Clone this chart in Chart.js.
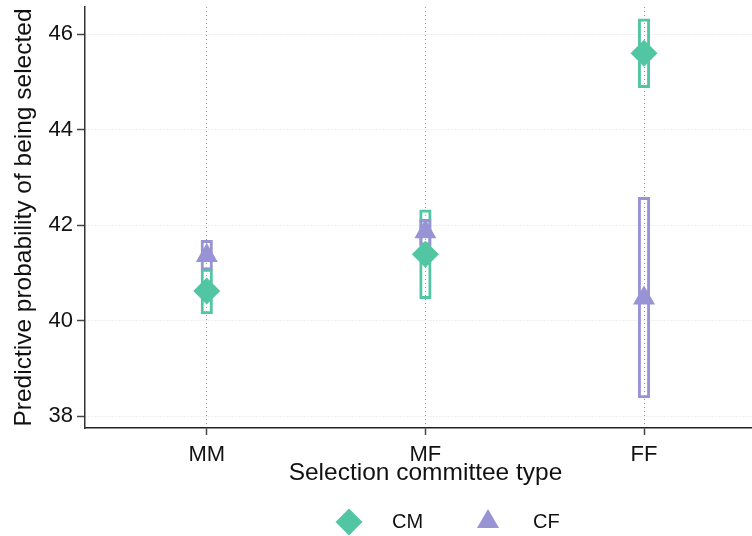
<!DOCTYPE html>
<html>
<head>
<meta charset="utf-8">
<script src="https://cdn.jsdelivr.net/npm/chart.js@4.4.1/dist/chart.umd.min.js"></script>
<style>
  html, body { margin: 0; padding: 0; background: #ffffff; }
  #wrap { width: 752px; height: 536px; }
</style>
</head>
<body>
<div id="wrap"><canvas id="chart" width="752" height="536"></canvas></div>
<script>
// Committee types on the x axis
const categories = ['MM', 'MF', 'FF'];

// Candidate male (CM): predicted probability and confidence bounds
const cmEstimate = [40.62, 41.39, 45.60];
const cmLow      = [40.14, 40.46, 44.88];
const cmHigh     = [41.08, 42.32, 46.32];

// Candidate female (CF): predicted probability and confidence bounds
const cfEstimate = [41.36, 41.86, 40.47];
const cfLow      = [41.06, 41.58, 38.38];
const cfHigh     = [41.68, 42.12, 42.58];

// Y axis tick values
const yTicks = [38, 40, 42, 44, 46];

const GREEN = '#52c6a3';
const PURPLE = '#9893d4';
const FONT = "'Liberation Sans', Arial, Helvetica, sans-serif";
const X_TITLE = 'Selection committee type';

const pos = categories.map((_, i) => i + 1);
const points = (est) => pos.map((x, i) => ({ x, y: est[i] }));
const ranges = (lo, hi) => pos.map((x, i) => ({ x, y: [lo[i], hi[i]] }));

// X axis title and the key below the plot (diamond = CM, triangle = CF)
const keyLegend = {
  id: 'keyLegend',
  afterDraw(chart) {
    const ctx = chart.ctx;
    ctx.save();
    ctx.fillStyle = '#111111';
    ctx.font = '24.5px ' + FONT;
    ctx.textAlign = 'center';
    ctx.textBaseline = 'alphabetic';
    ctx.fillText(X_TITLE, 425.5, 480);

    // diamond
    const dx = 349, dy = 522, dr = 13.5;
    ctx.fillStyle = GREEN;
    ctx.beginPath();
    ctx.moveTo(dx, dy - dr);
    ctx.lineTo(dx + dr, dy);
    ctx.lineTo(dx, dy + dr);
    ctx.lineTo(dx - dr, dy);
    ctx.closePath();
    ctx.fill();
    // triangle
    const tx = 488, tTop = 509, tBase = 528, tHalf = 11;
    ctx.fillStyle = PURPLE;
    ctx.beginPath();
    ctx.moveTo(tx, tTop);
    ctx.lineTo(tx + tHalf, tBase);
    ctx.lineTo(tx - tHalf, tBase);
    ctx.closePath();
    ctx.fill();
    // labels
    ctx.fillStyle = '#111111';
    ctx.font = '20px ' + FONT;
    ctx.textBaseline = 'middle';
    ctx.textAlign = 'left';
    ctx.fillText('CM', 392, 522);
    ctx.fillText('CF', 533, 522);
    ctx.restore();
  }
};

// keep the plot area edges fixed regardless of tick label overhang
const noOverhang = (s) => {
  s.paddingTop = 0; s.paddingBottom = 0; s.paddingLeft = 0; s.paddingRight = 0;
};

new Chart(document.getElementById('chart'), {
  type: 'bar',
  data: {
    datasets: [
      {
        type: 'scatter', label: 'CF', data: points(cfEstimate),
        pointStyle: 'triangle', pointRadius: 12.7, pointHoverRadius: 12.7,
        backgroundColor: PURPLE, borderColor: PURPLE, borderWidth: 0, order: 1
      },
      {
        type: 'scatter', label: 'CM', data: points(cmEstimate),
        pointStyle: 'rectRot', pointRadius: 13.5, pointHoverRadius: 13.5,
        backgroundColor: GREEN, borderColor: GREEN, borderWidth: 0, order: 2
      },
      {
        type: 'bar', label: 'CF interval', data: ranges(cfLow, cfHigh),
        backgroundColor: 'rgba(0,0,0,0)', borderColor: PURPLE, borderWidth: 2.3,
        borderSkipped: false, barThickness: 11.5, grouped: false, order: 3
      },
      {
        type: 'bar', label: 'CM interval', data: ranges(cmLow, cmHigh),
        backgroundColor: 'rgba(0,0,0,0)', borderColor: GREEN, borderWidth: 2.3,
        borderSkipped: false, barThickness: 11.5, grouped: false, order: 4
      }
    ]
  },
  options: {
    responsive: false,
    animation: false,
    layout: { autoPadding: false, padding: { top: 7, right: 0, left: 0, bottom: 0 } },
    plugins: { legend: { display: false }, tooltip: { enabled: false } },
    scales: {
      x: {
        type: 'linear', min: 0.443, max: 3.494, offset: false,
        afterBuildTicks: (s) => { s.ticks = pos.map(v => ({ value: v })); },
        afterFit: (s) => { s.height = 108; noOverhang(s); },
        ticks: {
          autoSkip: false, maxRotation: 0, padding: 7, color: '#111111',
          font: { family: FONT, size: 22 },
          callback: (v) => categories[v - 1] ?? ''
        },
        grid: {
          offset: false, color: '#9a9a9a', lineWidth: 1, borderDash: [1, 3],
          tickLength: 7, tickColor: '#444444', tickWidth: 1.5, tickBorderDash: []
        },
        border: { display: true, color: '#222222', width: 1.5, dash: [1, 3] },
        title: { display: false }
      },
      y: {
        type: 'linear', min: 37.75, max: 46.57,
        afterBuildTicks: (s) => { s.ticks = yTicks.map(v => ({ value: v })); },
        afterFit: (s) => { s.width = 85; noOverhang(s); },
        ticks: {
          padding: 4, color: '#111111', font: { family: FONT, size: 22 }
        },
        grid: {
          color: '#dcdcdc', lineWidth: 1, borderDash: [1, 2],
          tickLength: 8, tickColor: '#444444', tickWidth: 1.5, tickBorderDash: []
        },
        border: { display: true, color: '#333333', width: 1.5, dash: [1, 2] },
        title: {
          display: true, text: 'Predictive probability of being selected', color: '#111111',
          font: { family: FONT, size: 24.5 }, padding: { top: 10, bottom: 0 }
        }
      }
    }
  },
  plugins: [keyLegend]
});
</script>
</body>
</html>
